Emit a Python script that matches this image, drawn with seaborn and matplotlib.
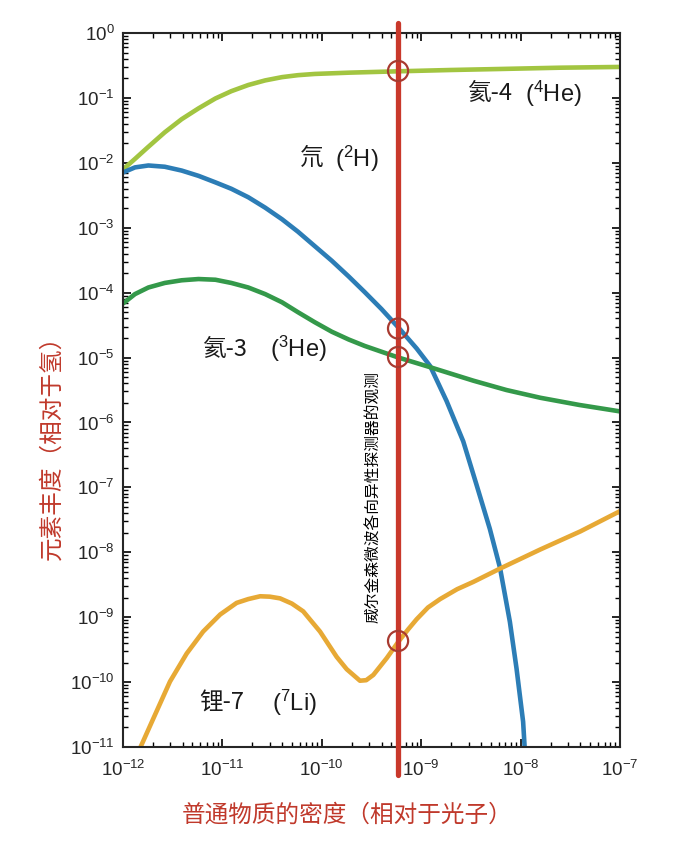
import numpy as np
import pandas as pd
import matplotlib
matplotlib.use("Agg")
import matplotlib.pyplot as plt
import seaborn as sns
from matplotlib.ticker import LogLocator, NullFormatter

# ---------------------------------------
# Data
# ---------------------------------------
he4_x = [1.0e-12, 1.32e-12, 1.78e-12, 2.63e-12, 3.89e-12, 5.75e-12, 8.5e-12, 1.23e-11,
         1.82e-11, 2.69e-11, 3.98e-11, 5.75e-11, 8.5e-11, 1.9e-10, 5.9e-10, 1.95e-9,
         6.2e-9, 2.5e-8, 1.0e-7]
he4_y = [7.9e-3, 1.15e-2, 1.74e-2, 2.95e-2, 4.7e-2, 6.9e-2, 9.8e-2, 0.127,
         0.158, 0.186, 0.209, 0.224, 0.234, 0.245, 0.257, 0.269,
         0.279, 0.292, 0.30]

d_x = [1.0e-12, 1.32e-12, 1.8e-12, 2.63e-12, 3.89e-12, 5.75e-12, 8.5e-12, 1.23e-11,
       1.82e-11, 2.69e-11, 3.98e-11, 5.75e-11, 8.5e-11, 1.26e-10, 1.86e-10, 2.7e-10,
       3.98e-10, 5.9e-10, 9.0e-10, 1.23e-9, 1.8e-9, 2.65e-9, 3.6e-9, 4.9e-9,
       6.2e-9, 7.8e-9, 9.1e-9, 1.06e-8, 1.1e-8]
d_y = [7.1e-3, 8.5e-3, 9.1e-3, 8.7e-3, 7.6e-3, 6.3e-3, 5.0e-3, 3.98e-3,
       2.95e-3, 2.04e-3, 1.35e-3, 8.7e-4, 5.2e-4, 3.1e-4, 1.78e-4, 1.02e-4,
       5.6e-5, 2.9e-5, 1.38e-5, 7.4e-6, 2.14e-6, 5.1e-7, 1.1e-7, 2.3e-8,
       5.8e-9, 8.5e-10, 1.62e-10, 2.45e-11, 9.5e-12]

he3_x = [1.0e-12, 1.32e-12, 1.8e-12, 2.63e-12, 3.89e-12, 5.75e-12, 8.5e-12, 1.23e-11,
         1.82e-11, 2.69e-11, 3.98e-11, 5.75e-11, 8.5e-11, 1.26e-10, 1.86e-10, 2.7e-10,
         3.98e-10, 5.9e-10, 1.23e-9, 3.35e-9, 7.2e-9, 1.58e-8, 3.9e-8, 1.0e-7]
he3_y = [6.8e-5, 9.5e-5, 1.2e-4, 1.41e-4, 1.55e-4, 1.62e-4, 1.58e-4, 1.41e-4,
         1.2e-4, 9.5e-5, 7.1e-5, 5.0e-5, 3.5e-5, 2.5e-5, 1.9e-5, 1.51e-5,
         1.23e-5, 1.0e-5, 7.1e-6, 4.4e-6, 3.16e-6, 2.4e-6, 1.86e-6, 1.48e-6]

li_x = [1.48e-12, 2.02e-12, 2.97e-12, 4.37e-12, 6.4e-12, 9.5e-12, 1.39e-11, 1.82e-11,
        2.4e-11, 3.0e-11, 3.8e-11, 5.0e-11, 6.5e-11, 9.6e-11, 1.41e-10, 1.78e-10,
        2.42e-10, 2.8e-10, 3.3e-10, 4.5e-10, 5.9e-10, 7.4e-10, 9.0e-10, 1.17e-9,
        1.55e-9, 2.3e-9, 3.35e-9, 6.2e-9, 1.57e-8, 4.0e-8, 1.0e-7]
li_y = [9.5e-12, 2.75e-11, 1.02e-10, 2.75e-10, 6.0e-10, 1.1e-9, 1.66e-9, 1.9e-9,
        2.1e-9, 2.07e-9, 1.95e-9, 1.62e-9, 1.23e-9, 6.0e-10, 2.45e-10, 1.58e-10,
        1.05e-10, 1.07e-10, 1.29e-10, 2.34e-10, 4.2e-10, 6.5e-10, 9.3e-10, 1.41e-9,
        1.9e-9, 2.7e-9, 3.5e-9, 5.6e-9, 1.1e-8, 2.1e-8, 4.3e-8]

wmap_x = 5.85e-10
circle_y = [0.26, 2.8e-5, 1.02e-5, 4.3e-10]

species = ["He4", "D", "He3", "Li7"]
colors = {"He4": "#a2c541", "D": "#2c7db6", "He3": "#34994a", "Li7": "#e7a935"}

frames = []
for name, xs, ys in zip(species, [he4_x, d_x, he3_x, li_x], [he4_y, d_y, he3_y, li_y]):
    frames.append(pd.DataFrame({"x": xs, "y": ys, "species": name}))
df = pd.concat(frames, ignore_index=True)

# ---------------------------------------
# Style
# ---------------------------------------
sns.set_style("ticks")
plt.rcParams["font.family"] = ["Liberation Sans", "Noto Sans CJK SC", "DejaVu Sans"]
plt.rcParams["mathtext.fontset"] = "custom"
plt.rcParams["mathtext.rm"] = "Liberation Sans"
plt.rcParams["mathtext.it"] = "Liberation Sans:italic"
plt.rcParams["axes.linewidth"] = 1.5
cjk = ["Noto Sans CJK SC", "DejaVu Sans"]

fig = plt.figure(figsize=(6.84, 8.48), dpi=100)
ax = fig.add_axes([123 / 684, 1 - 747 / 848, 497 / 684, 714 / 848])
ax.set_xscale("log")
ax.set_yscale("log")

sns.lineplot(data=df, x="x", y="y", hue="species", palette=colors, sort=False,
             estimator=None, linewidth=3.3, legend=False, ax=ax,
             solid_joinstyle="round", solid_capstyle="round")

# WMAP line and circles
ax.axvline(wmap_x, ymin=-0.039, ymax=1.014, color="#c9382b", linewidth=3.8,
           clip_on=False, zorder=5)
sns.scatterplot(x=[wmap_x] * len(circle_y), y=circle_y, s=210, facecolor="none",
                edgecolor="#a83a30", linewidth=1.6, ax=ax, zorder=6, legend=False)

ax.set_xlim(1e-12, 1e-7)
ax.set_ylim(1e-11, 1e0)

ax.xaxis.set_major_locator(LogLocator(base=10, numticks=20))
ax.yaxis.set_major_locator(LogLocator(base=10, numticks=20))
ax.xaxis.set_minor_locator(LogLocator(base=10, subs=np.arange(2, 10), numticks=100))
ax.yaxis.set_minor_locator(LogLocator(base=10, subs=np.arange(2, 10), numticks=100))
ax.xaxis.set_minor_formatter(NullFormatter())
ax.yaxis.set_minor_formatter(NullFormatter())
ax.tick_params(which="both", direction="in", top=True, right=True, color="black")
ax.tick_params(which="major", length=6, width=1.2, labelsize=13.5)
ax.tick_params(axis="x", which="major", pad=9)
ax.tick_params(axis="y", which="major", pad=6)
ax.tick_params(which="minor", length=3.5, width=1.0)
ax.set_xlabel("")
ax.set_ylabel("")

# Labels on curves: Chinese name, then the isotope symbol
name_kw = dict(fontsize=17, color="#1a1a1a", va="center", ha="left", family=cjk)
sym_kw = dict(fontsize=17, color="#1a1a1a", va="center", ha="left")
ax.text(2.9e-9, 0.117, "氦-4", **name_kw)
ax.text(1.1e-8, 0.117, "($^{4}$He)", **sym_kw)
ax.text(6.0e-11, 1.15e-2, "氘", **name_kw)
ax.text(1.36e-10, 1.15e-2, "($^{2}$H)", **sym_kw)
ax.text(6.3e-12, 1.35e-5, "氦-3", **name_kw)
ax.text(3.0e-11, 1.35e-5, "($^{3}$He)", **sym_kw)
ax.text(5.9e-12, 4.7e-11, "锂-7", **name_kw)
ax.text(3.17e-11, 4.7e-11, "($^{7}$Li)", **sym_kw)
ax.text(3.3e-10, 7.2e-8, "威尔金森微波各向异性探测器的观测", rotation=90, fontsize=11.3,
        ha="center", va="center", color="black", family=cjk)

# Axis titles
fig.text(52 / 684, 1 - 442 / 848, "元素丰度（相对于氢）", rotation=90, fontsize=17,
         color="#c0392b", ha="center", va="center", family=cjk)
fig.text(347 / 684, 1 - 815 / 848, "普通物质的密度（相对于光子）", fontsize=17,
         color="#c0392b", ha="center", va="center", family=cjk)

fig.savefig("out.png", dpi=100, facecolor="white")
